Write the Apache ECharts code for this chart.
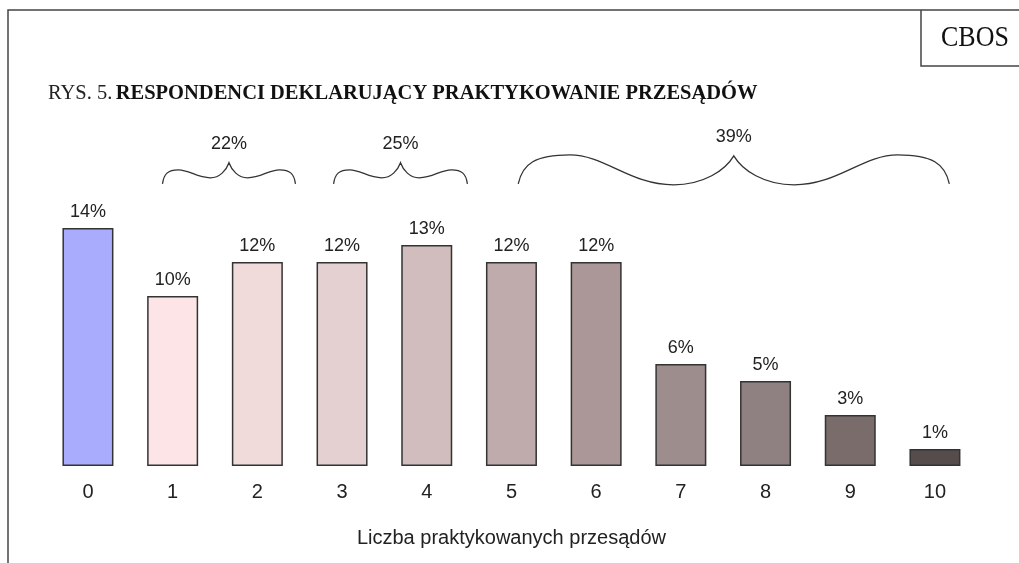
<!DOCTYPE html>
<html>
<head>
<meta charset="utf-8">
<script src="https://cdn.jsdelivr.net/npm/echarts@6/dist/echarts.min.js"></script>
<style>
  html, body { margin: 0; padding: 0; background: #fff; }
  #chart { width: 1019px; height: 563px; }
</style>
</head>
<body>
<div id="chart"></div>
<script>
// Number of superstitions practised (0–10) and share of respondents, %
const categories = ['0', '1', '2', '3', '4', '5', '6', '7', '8', '9', '10'];
const shares = [14, 10, 12, 12, 13, 12, 12, 6, 5, 3, 1];

// Grouped totals shown above the curly braces: [first category, last category, total %]
const groupFirst = [1, 3, 5];
const groupLast = [2, 4, 10];
const groupTotals = [22, 25, 39];

// Bar fills: blue for "none", then a light-to-dark pink/grey ramp
const barColors = ['#a9acfd', '#fde4e6', '#f0dada', '#e4d0d0', '#d1bdbd', '#bfabab',
                   '#ab9797', '#9d8d8d', '#8f8181', '#7b6c6c', '#574c4c'];

// Brace geometry per group: side insets in band units, curve heights in px
const braceShape = [
  { padL: -0.12, padR: 0.45, hi: 14, lo: 6, tip: 21 },
  { padL: -0.10, padR: 0.48, hi: 14, lo: 6, tip: 21 },
  { padL: 0.08, padR: 0.17, hi: 29, lo: -1, tip: 28 }
];

const SANS = '"Liberation Sans", Arial, sans-serif';
const SERIF = '"Liberation Serif", "Times New Roman", serif';

const chart = echarts.init(document.getElementById('chart'), null, { renderer: 'canvas' });

function bracePath(x0, x1, yEnd, s) {
  const w = x1 - x0, m = (x0 + x1) / 2;
  const yHi = yEnd - s.hi, yLo = yEnd - s.lo, yTip = yEnd - s.tip;
  const L = (f) => x0 + f * w, R = (f) => x1 - f * w;
  return 'M' + x0 + ' ' + yEnd +
    ' C' + L(0.01) + ' ' + (yEnd - s.hi * 0.7) + ' ' + L(0.04) + ' ' + yHi + ' ' + L(0.12) + ' ' + yHi +
    ' C' + L(0.20) + ' ' + yHi + ' ' + L(0.26) + ' ' + yLo + ' ' + L(0.36) + ' ' + yLo +
    ' C' + L(0.43) + ' ' + yLo + ' ' + L(0.48) + ' ' + (yLo - (yLo - yTip) * 0.5) + ' ' + m + ' ' + yTip +
    ' C' + R(0.48) + ' ' + (yLo - (yLo - yTip) * 0.5) + ' ' + R(0.43) + ' ' + yLo + ' ' + R(0.36) + ' ' + yLo +
    ' C' + R(0.26) + ' ' + yLo + ' ' + R(0.20) + ' ' + yHi + ' ' + R(0.12) + ' ' + yHi +
    ' C' + R(0.04) + ' ' + yHi + ' ' + R(0.01) + ' ' + (yEnd - s.hi * 0.7) + ' ' + x1 + ' ' + yEnd;
}

const braceData = groupTotals.map((t, i) => [groupFirst[i], groupLast[i], t]);

chart.setOption({
  animation: false,
  backgroundColor: '#fff',
  grid: { left: 45.6, right: 41.7, top: 126, bottom: 97, containLabel: false },
  xAxis: {
    type: 'category',
    data: categories,
    axisLine: { show: false },
    axisTick: { show: false },
    axisLabel: { color: '#222', fontFamily: SANS, fontSize: 20, margin: 16 },
    name: 'Liczba praktykowanych przesądów',
    nameLocation: 'middle',
    nameGap: 62,
    nameTextStyle: { color: '#222', fontFamily: SANS, fontSize: 20 }
  },
  yAxis: { type: 'value', min: 0, max: 20, show: false },
  series: [
    {
      type: 'bar',
      barWidth: 51,
      data: shares.map((v, i) => ({ value: v, itemStyle: { color: barColors[i] } })),
      itemStyle: { borderColor: '#333', borderWidth: 1.5 },
      label: {
        show: true,
        position: 'top',
        distance: 7,
        formatter: '{c}%',
        color: '#222',
        fontFamily: SANS,
        fontSize: 18
      }
    },
    {
      type: 'custom',
      data: braceData,
      silent: true,
      renderItem: function (params, api) {
        const i = params.dataIndex;
        const s = braceShape[i];
        const band = api.size([1, 0])[0];
        const x0 = api.coord([api.value(0), 0])[0] + s.padL * band;
        const x1 = api.coord([api.value(1), 0])[0] + s.padR * band;
        const yEnd = api.coord([0, 16.6])[1];
        const m = (x0 + x1) / 2;
        return {
          type: 'group',
          children: [
            {
              type: 'path',
              shape: { pathData: bracePath(x0, x1, yEnd, s) },
              style: { fill: null, stroke: '#333', lineWidth: 1.3 }
            },
            {
              type: 'text',
              style: {
                text: api.value(2) + '%',
                x: m,
                y: yEnd - s.tip - 19,
                align: 'center',
                verticalAlign: 'middle',
                fill: '#222',
                font: '18px ' + SANS
              }
            }
          ]
        };
      }
    }
  ],
  graphic: [
    // page frame
    { type: 'polyline', shape: { points: [[8, 563], [8, 10], [1019, 10]] },
      style: { stroke: '#444', lineWidth: 1.5, fill: null } },
    // source box
    { type: 'polyline', shape: { points: [[921, 10], [921, 66], [1019, 66]] },
      style: { stroke: '#444', lineWidth: 1.5, fill: null } },
    { type: 'text', x: 941, y: 24, scaleY: 1.12,
      style: { text: 'CBOS', fill: '#111', font: '26px ' + SERIF } },
    { type: 'text', x: 48, y: 83,
      style: {
        text: '{a|RYS. 5.} {b|RESPONDENCI DEKLARUJĄCY PRAKTYKOWANIE PRZESĄDÓW}',
        rich: {
          a: { fill: '#222', font: '20.5px ' + SERIF },
          b: { fill: '#111', font: 'bold 20.5px ' + SERIF }
        }
      } }
  ]
});
</script>
</body>
</html>
